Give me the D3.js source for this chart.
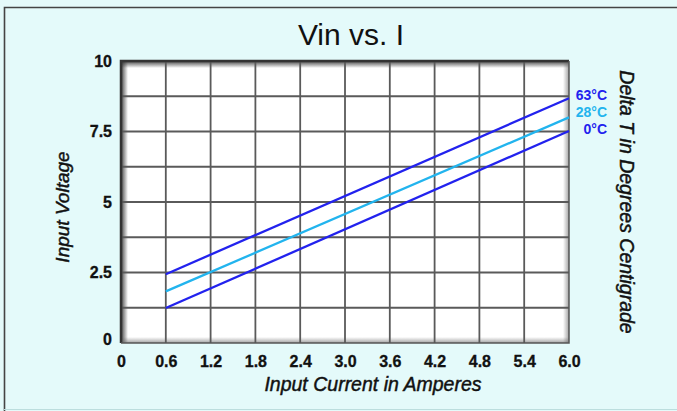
<!DOCTYPE html>
<html>
<head>
<meta charset="utf-8">
<script src="https://cdn.jsdelivr.net/npm/d3@7"></script>
<style>
  body { margin: 0; background: #e4fafa; }
  svg { display: block; font-family: "Liberation Sans", Arial, sans-serif; }
</style>
</head>
<body>
<div id="chart"></div>
<script>
// x ticks (amperes), y ticks (volts)
const xTicks = [0, 0.6, 1.2, 1.8, 2.4, 3.0, 3.6, 4.2, 4.8, 5.4, 6.0];
const yGrid = [0, 1.25, 2.5, 3.75, 5, 6.25, 7.5, 8.75, 10];
const yLabels = [0, 2.5, 5, 7.5, 10];

// each temperature line: value at 0.6 A and 6.0 A
const seriesNames = ["63°C", "28°C", "0°C"];
const seriesColors = ["#2222ee", "#22b4ee", "#2222ee"];
const currentPts = [0.6, 6.0];
const voltage63 = [2.44, 8.68];
const voltage28 = [1.83, 8.0];
const voltage0 = [1.24, 7.52];

const W = 677, H = 411;
const margin = {left: 121, right: 108, top: 61, bottom: 68};

const svg = d3.select('#chart').append('svg')
    .attr('width', W)
    .attr('height', H);

const defs = svg.append('defs');
const mkGrad = (id, x1, y1, x2, y2, stops) => {
    const g = defs.append('linearGradient').attr('id', id)
        .attr('x1', x1).attr('y1', y1).attr('x2', x2).attr('y2', y2);
    stops.forEach(s => g.append('stop').attr('offset', s[0]).attr('stop-color', s[1]).attr('stop-opacity', s[2]));
};
mkGrad('shL', 0, 0, 1, 0, [[0, '#333', 0.9], [1, '#333', 0]]);
mkGrad('shT', 0, 0, 0, 1, [[0, '#333', 0.9], [1, '#333', 0]]);
mkGrad('shR', 1, 0, 0, 0, [[0, '#666', 0.6], [1, '#666', 0]]);
mkGrad('shB', 0, 1, 0, 0, [[0, '#666', 0.6], [1, '#666', 0]]);

// outer frame
svg.append('rect')
    .attr('x', 0).attr('y', 0).attr('width', W).attr('height', H)
    .attr('fill', '#e4fafa');
svg.append('path')
    .attr('d', `M4.5,${H} V7.5 H${W}`)
    .attr('fill', 'none')
    .attr('stroke', '#444')
    .attr('stroke-width', 1.6);
svg.append('line')
    .attr('x1', 4).attr('x2', W).attr('y1', H - 1.5).attr('y2', H - 1.5)
    .attr('stroke', '#bcdede').attr('stroke-width', 1);

const x = d3.scaleLinear().domain([0, 6]).range([margin.left, W - margin.right]);
const y = d3.scaleLinear().domain([0, 10]).range([H - margin.bottom, margin.top]);

const pw = x(6) - x(0), ph = y(0) - y(10);

// plot area
svg.append('rect')
    .attr('x', x(0)).attr('y', y(10)).attr('width', pw).attr('height', ph)
    .attr('fill', '#fff');
const sh = svg.append('g');
sh.append('rect').attr('x', x(0)).attr('y', y(10)).attr('width', 7).attr('height', ph).attr('fill', 'url(#shL)');
sh.append('rect').attr('x', x(0)).attr('y', y(10)).attr('width', pw).attr('height', 7).attr('fill', 'url(#shT)');
sh.append('rect').attr('x', x(6) - 6).attr('y', y(10)).attr('width', 6).attr('height', ph).attr('fill', 'url(#shR)');
sh.append('rect').attr('x', x(0)).attr('y', y(0) - 6).attr('width', pw).attr('height', 6).attr('fill', 'url(#shB)');

// grid
const grid = svg.append('g').attr('stroke', '#5a5a5a').attr('stroke-width', 1.8);
grid.selectAll('line.v')
    .data(xTicks.slice(1, -1))
    .join('line')
    .attr('class', 'v')
    .attr('x1', d => x(d)).attr('x2', d => x(d))
    .attr('y1', y(10)).attr('y2', y(0));
grid.selectAll('line.h')
    .data(yGrid.slice(1, -1))
    .join('line')
    .attr('class', 'h')
    .attr('x1', x(0)).attr('x2', x(6))
    .attr('y1', d => y(d)).attr('y2', d => y(d));

// border
svg.append('path')
    .attr('d', `M${x(0)},${y(0)} V${y(10)} H${x(6)}`)
    .attr('fill', 'none').attr('stroke', '#333').attr('stroke-width', 2.5);
svg.append('path')
    .attr('d', `M${x(6)},${y(10)} V${y(0)} H${x(0)}`)
    .attr('fill', 'none').attr('stroke', '#555').attr('stroke-width', 1.5);

// tick labels via d3 axis
const xAxis = svg.append('g')
    .attr('transform', `translate(0,${y(0) + 7})`)
    .call(d3.axisBottom(x).tickValues(xTicks).tickSize(0)
        .tickFormat((d, i) => i === 0 ? '0' : d3.format('.1f')(d)));
const yAxis = svg.append('g')
    .attr('transform', `translate(${x(0) - 6},0)`)
    .call(d3.axisLeft(y).tickValues(yLabels).tickSize(0).tickFormat(d3.format('')));
[xAxis, yAxis].forEach(a => {
    a.select('.domain').remove();
    a.attr('font-size', null).attr('font-family', null);
    a.selectAll('text')
        .style('font-family', '"Liberation Sans", Arial, sans-serif')
        .style('font-size', '16px')
        .style('font-weight', 'bold')
        .attr('fill', '#111')
        .attr('stroke', '#111')
        .attr('stroke-width', 0.3);
});
xAxis.selectAll('text').attr('dy', '0.85em');
yAxis.select('.tick text').attr('dy', '0.1em');

// lines
const series = [voltage63, voltage28, voltage0];
const line = d3.line().x((d, i) => x(currentPts[i])).y(d => y(d));
svg.append('g').selectAll('path')
    .data(series)
    .join('path')
    .attr('d', d => line(d))
    .attr('fill', 'none')
    .attr('stroke', (d, i) => seriesColors[i])
    .attr('stroke-width', 2.3);

// series labels at right
svg.append('g').selectAll('text')
    .data(seriesNames)
    .join('text')
    .attr('x', 607)
    .attr('y', (d, i) => 100 + i * 17)
    .attr('text-anchor', 'end')
    .style('font-size', '14px')
    .style('font-weight', 'bold')
    .attr('fill', (d, i) => seriesColors[i])
    .text(d => d);

// titles
svg.append('text')
    .attr('x', 351).attr('y', 45)
    .attr('text-anchor', 'middle')
    .style('font-size', '30px')
    .attr('fill', '#111')
    .text('Vin vs. I');

const axisTitle = sel => sel
    .attr('text-anchor', 'middle')
    .style('font-style', 'italic')
    .attr('fill', '#111')
    .attr('stroke', '#111')
    .attr('stroke-width', 0.45);

svg.append('text')
    .attr('x', 373).attr('y', 391)
    .style('font-size', '19.5px')
    .call(axisTitle)
    .text('Input Current in Amperes');

svg.append('text')
    .attr('transform', 'translate(69,207) rotate(-90)')
    .style('font-size', '19px')
    .call(axisTitle)
    .text('Input Voltage');

svg.append('text')
    .attr('transform', 'translate(620,202) rotate(90)')
    .style('font-size', '19.5px')
    .call(axisTitle)
    .text('Delta T in Degrees Centigrade');
</script>
</body>
</html>
